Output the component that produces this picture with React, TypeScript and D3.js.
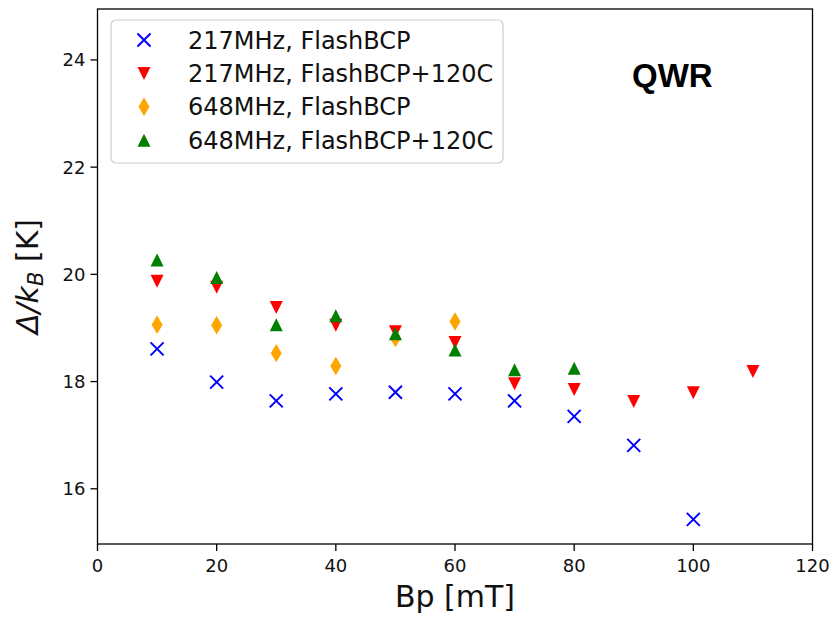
import React from 'react';
import * as d3 from 'd3';

// Bp [mT] for each series, with the gap
const bp217Flash = [10, 20, 30, 40, 50, 60, 70, 80, 90, 100];
const gap217Flash = [18.61, 17.99, 17.64, 17.77, 17.8, 17.77, 17.64, 17.35, 16.81, 15.43];

const bp217Bake = [10, 20, 30, 40, 50, 60, 70, 80, 90, 100, 110];
const gap217Bake = [19.87, 19.76, 19.38, 19.05, 18.93, 18.73, 17.96, 17.85, 17.63, 17.79, 18.19];

const bp648Flash = [10, 20, 30, 40, 50, 60];
const gap648Flash = [19.06, 19.05, 18.53, 18.29, 18.81, 19.12];

const bp648Bake = [10, 20, 30, 40, 50, 60, 70, 80];
const gap648Bake = [20.27, 19.94, 19.06, 19.23, 18.89, 18.59, 18.22, 18.25];

const xTicks = [0, 20, 40, 60, 80, 100, 120];
const yTicks = [16, 18, 20, 22, 24];

const series = [
  { label: '217MHz, FlashBCP', xs: bp217Flash, ys: gap217Flash, marker: 'x', color: '#0000ff' },
  { label: '217MHz, FlashBCP+120C', xs: bp217Bake, ys: gap217Bake, marker: 'v', color: '#ff0000' },
  { label: '648MHz, FlashBCP', xs: bp648Flash, ys: gap648Flash, marker: 'd', color: '#ffa500' },
  { label: '648MHz, FlashBCP+120C', xs: bp648Bake, ys: gap648Bake, marker: '^', color: '#008000' },
];

const W = 833;
const H = 617;
const m = { left: 97.5, right: 812.5, top: 9, bottom: 544 };
const FONT = 'DejaVu Sans, sans-serif';
const MS = 13;

const x = d3.scaleLinear().domain([0, 120]).range([m.left, m.right]);
const y = d3.scaleLinear().domain([14.97, 24.95]).range([m.bottom, m.top]);

function Marker({ kind, cx, cy, color }: { kind: string; cx: number; cy: number; color: string }) {
  const h = MS / 2;
  if (kind === 'x') {
    return (
      <path
        d={`M${cx - h},${cy - h}L${cx + h},${cy + h}M${cx - h},${cy + h}L${cx + h},${cy - h}`}
        stroke={color}
        strokeWidth={2}
        fill="none"
      />
    );
  }
  if (kind === 'v') {
    return <path d={`M${cx - h},${cy - h}L${cx + h},${cy - h}L${cx},${cy + h}Z`} fill={color} />;
  }
  if (kind === '^') {
    return <path d={`M${cx - h},${cy + h}L${cx + h},${cy + h}L${cx},${cy - h}Z`} fill={color} />;
  }
  // thin diamond
  const dh = MS * 0.707;
  const dw = dh * 0.6;
  return <path d={`M${cx},${cy - dh}L${cx + dw},${cy}L${cx},${cy + dh}L${cx - dw},${cy}Z`} fill={color} />;
}

export default function App() {
  return (
    <div style={{ position: 'absolute', left: 0, top: 0 }}>
      <svg width={W} height={H} style={{ display: 'block', background: '#fff' }} fontFamily={FONT}>
        {/* markers */}
        {series.map((s) =>
          s.xs.map((v, i) => (
            <Marker key={s.label + i} kind={s.marker} cx={x(v)} cy={y(s.ys[i])} color={s.color} />
          ))
        )}

        {/* frame */}
        <rect
          x={m.left}
          y={m.top}
          width={m.right - m.left}
          height={m.bottom - m.top}
          fill="none"
          stroke="#000"
          strokeWidth={1.3}
        />

        {/* x axis */}
        {xTicks.map((t) => (
          <g key={'x' + t}>
            <line x1={x(t)} x2={x(t)} y1={m.bottom} y2={m.bottom + 7} stroke="#000" strokeWidth={1.3} />
            <text x={x(t)} y={m.bottom + 28} textAnchor="middle" fontSize={18} fill="#111">
              {t}
            </text>
          </g>
        ))}
        <text x={(m.left + m.right) / 2} y={607} textAnchor="middle" fontSize={30} fill="#111">
          Bp [mT]
        </text>

        {/* y axis */}
        {yTicks.map((t) => (
          <g key={'y' + t}>
            <line x1={m.left - 7} x2={m.left} y1={y(t)} y2={y(t)} stroke="#000" strokeWidth={1.3} />
            <text x={m.left - 12} y={y(t) + 6.5} textAnchor="end" fontSize={18} fill="#111">
              {t}
            </text>
          </g>
        ))}
        <text
          transform={`translate(38,${(m.top + m.bottom) / 2}) rotate(-90)`}
          textAnchor="middle"
          fontSize={30}
          fill="#111"
        >
          <tspan fontStyle="italic">Δ/k</tspan>
          <tspan fontStyle="italic" fontSize={21} dy={5}>
            B
          </tspan>
          <tspan dy={-5}> [K]</tspan>
        </text>

        {/* legend */}
        <rect x={111} y={20} width={392} height={143} rx={5} fill="#fff" fillOpacity={0.8} stroke="#cccccc" strokeWidth={1.2} />
        {series.map((s, i) => {
          const ly = 40 + i * 33.4;
          return (
            <g key={'leg' + s.label}>
              <Marker kind={s.marker} cx={144} cy={ly} color={s.color} />
              <text x={188} y={ly + 8.5} fontSize={24} fill="#111">
                {s.label}
              </text>
            </g>
          );
        })}

        {/* annotation */}
        <text x={632} y={87} fontSize={33} fontWeight="bold" fontFamily="Liberation Sans, Arial, sans-serif" fill="#000">
          QWR
        </text>
      </svg>
    </div>
  );
}
